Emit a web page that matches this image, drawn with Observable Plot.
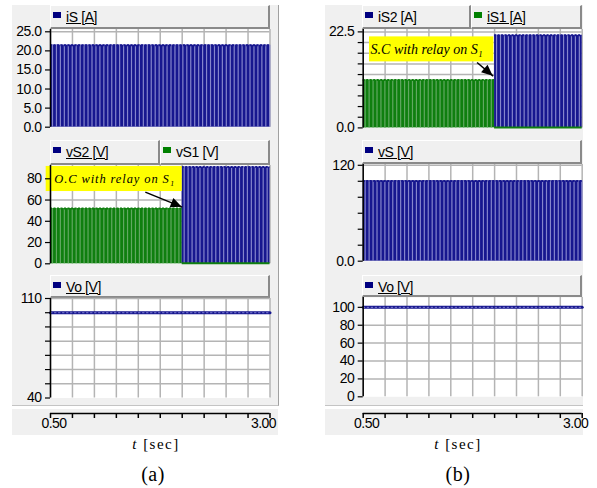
<!DOCTYPE html>
<html><head><meta charset="utf-8">
<script src="https://cdn.jsdelivr.net/npm/d3@7"></script>
<script src="https://cdn.jsdelivr.net/npm/@observablehq/plot@0.6"></script>
<style>
body{margin:0;background:#fff;}
#fig{position:relative;width:597px;height:488px;overflow:hidden;font-family:Arial,"Liberation Sans",sans-serif;}
.abs{position:absolute;}
.bg{position:absolute;background:#f0f0f0;}
.hdr{position:absolute;box-sizing:border-box;border-bottom:2px solid #8a8a8a;border-right:2px solid #8a8a8a;border-top:1px solid #fff;border-left:1px solid #fff;background:#f0f0f0;font-size:14px;letter-spacing:-0.4px;color:#000;white-space:nowrap;}
.hdr .sw{position:absolute;top:6px;width:8px;height:6px;}
.hdr .lb{position:absolute;top:2px;line-height:18px;}
.serif{font-family:"Liberation Serif","Times New Roman",serif;text-align:center;white-space:nowrap;}
</style></head>
<body>
<div id="fig"></div>
<script>
// ---------- data ----------
const tDomain = [0.5, 3.0];
const tGrid = [0.5, 0.75, 1.0, 1.25, 1.5, 1.75, 2.0, 2.25, 2.5, 2.75, 3.0];
const xTickLabels = [{t: 0.5, label: "0.50"}, {t: 3.0, label: "3.00"}];
const switchPeriod = 0.045; // apparent switching period of the pulse trains (s)

// (a) top: iS [A]
const a_iS_on = [{t0: 0.5, t1: 3.0, level: 21.5}];
// (a) middle: vS2, vS1 [V]
const a_vS1_on = [{t0: 0.5, t1: 2.0, level: 52}];
const a_vS1_off = [{t0: 2.0, t1: 3.0, level: 0.6}];
const a_vS2_on = [{t0: 2.0, t1: 3.0, level: 91}];
// (a) bottom: Vo [V]
const a_Vo = [{t: 0.5, v: 100}, {t: 3.0, v: 100}];
// (b) top: iS2, iS1 [A]
const b_iS1_on = [{t0: 0.5, t1: 2.0, level: 11.2}];
const b_iS1_off = [{t0: 2.0, t1: 3.0, level: 0.12}];
const b_iS2_on = [{t0: 2.0, t1: 3.0, level: 21.7}];
// (b) middle: vS [V]
const b_vS_on = [{t0: 0.5, t1: 3.0, level: 100.5}];
// (b) bottom: Vo [V]
const b_Vo = [{t: 0.5, v: 100}, {t: 3.0, v: 100}];

// y ticks
const a1Ticks = [0, 5, 10, 15, 20, 25];
const a2Ticks = [0, 20, 40, 60, 80];
const a3Ticks = [40, 50, 60, 70, 80, 90, 100, 110];
const a3Labels = {40: "40", 110: "110"};
const b1Ticks = [0, 2.5, 5, 7.5, 10, 12.5, 15, 17.5, 20, 22.5];
const b1Labels = {0: "0.0", 22.5: "22.5"};
const b2Ticks = [0, 20, 40, 60, 80, 100, 120];
const b2Labels = {0: "0.0", 120: "120"};
const b3Ticks = [0, 20, 40, 60, 80, 100];

// annotations
const a_note = [{t0: 0.451, t1: 2.0, v0: 68.0, v1: 91.6, tx: 1.23, vy: 79.6, text: "O.C with relay on S\u2081"}];
const a_arrow = [{t0: 1.58, v0: 67.4, t1: 2.0, v1: 53.3}];
const b_note = [{t0: 0.572, t1: 1.991, v0: 15.47, v1: 21.33, tx: 1.223, vy: 18.3, text: "S.C with relay on S\u2081"}];
const b_arrow = [{t0: 1.80, v0: 15.33, t1: 1.984, v1: 12.12}];

// ---------- style ----------
const NAVY = "#17178f", NAVY_L = "#8585cc", GREEN = "#0f7f0f", GREEN_L = "#62a862";
const GRID = "#b4b4b4";
const FONT = "Arial, 'Liberation Sans', sans-serif";
const SERIF = "'Liberation Serif','Times New Roman',serif";

const fig = document.getElementById("fig");
function add(html) { fig.insertAdjacentHTML("beforeend", html); }

// grey backgrounds
add(`<div class="bg" style="left:12px;top:5px;width:266px;height:400px;border-bottom:1px solid #c4c4c4;border-right:1px solid #a0a0a0"></div>`);
add(`<div class="bg" style="left:325px;top:5px;width:258px;height:400px;border-bottom:1px solid #c4c4c4"></div>`);
add(`<div class="bg" style="left:12px;top:409px;width:266px;height:26px"></div>`);
add(`<div class="bg" style="left:325px;top:409px;width:258px;height:26px"></div>`);

function header(x0, x1, top, bottom, name, color, underline) {
  add(`<div class="hdr" style="left:${x0}px;top:${top}px;width:${x1 - x0}px;height:${bottom - top}px">
    <div class="sw" style="left:2px;background:${color}"></div>
    <div class="lb" style="left:15px;${underline ? "text-decoration:underline;" : ""}">${name}</div></div>`);
}
header(50, 270, 5, 29, "iS [A]", "#000080", true);
header(50, 160, 140, 165, "vS2 [V]", "#000080", true);
header(160, 270, 140, 165, "vS1 [V]", "#008000", false);
header(50, 270, 275, 298, "Vo [V]", "#000080", true);
header(362, 471, 5, 29, "iS2 [A]", "#000080", false);
header(471, 582, 5, 29, "iS1 [A]", "#008000", true);
header(362, 582, 140, 164, "vS [V]", "#000080", true);
header(362, 582, 275, 297, "Vo [V]", "#000080", true);

// ---------- helpers ----------
function pulses(segs) {
  const out = [];
  for (const s of segs) for (let t = s.t0 + switchPeriod / 2; t < s.t1; t += switchPeriod) out.push({t, level: s.level});
  return out;
}
function pulseMarks(on, base, light) {
  return [
    Plot.rect(on, {x1: "t0", x2: "t1", y1: 0, y2: "level", fill: base}),
    Plot.ruleX(pulses(on), {x: "t", y1: 0, y2: "level", stroke: light, strokeWidth: 1.2}),
    Plot.ruleY(on, {x1: "t0", x2: "t1", y: "level", stroke: base, strokeWidth: 2, strokeDasharray: "2,1.5"})
  ];
}
function offMarks(off, color) {
  return [Plot.ruleY(off, {x1: "t0", x2: "t1", y: "level", stroke: color, strokeWidth: 2})];
}
function voMarks(data) {
  return [
    Plot.line(data, {x: "t", y: "v", stroke: NAVY, strokeWidth: 3}),
    Plot.line(data, {x: "t", y: "v", stroke: "#7c7cd0", strokeWidth: 1, strokeDasharray: "1.5,2.5"})
  ];
}
function noteMarks(note, arrow, size) {
  return [
    Plot.rect(note, {x1: "t0", x2: "t1", y1: "v0", y2: "v1", fill: "#ffff00"}),
    Plot.text(note, {x: "tx", y: "vy", text: "text", fontFamily: SERIF, fontStyle: "italic", fontSize: size, fill: "#000"}),
    Plot.link(arrow, {x1: "t0", y1: "v0", x2: "t1", y2: "v1", stroke: "#000", strokeWidth: 1.5})
  ];
}
function addHeads(svg, arr) {
  const sx = svg.scale("x"), sy = svg.scale("y");
  for (const a of arr) {
    const x1 = sx.apply(a.t0), y1 = sy.apply(a.v0), x2 = sx.apply(a.t1), y2 = sy.apply(a.v1);
    const ang = Math.atan2(y2 - y1, x2 - x1), L = 11, W = 5;
    const bx = x2 - L * Math.cos(ang), by = y2 - L * Math.sin(ang);
    const pts = [[x2, y2], [bx - W * Math.sin(ang), by + W * Math.cos(ang)], [bx + W * Math.sin(ang), by - W * Math.cos(ang)]];
    d3.select(svg).append("polygon").attr("points", pts.map(p => p.join(",")).join(" ")).attr("fill", "#000");
  }
}

function panel(c) {
  const mt = 10, mb = 10;
  const svg = Plot.plot({
    width: c.greyRight - c.greyLeft,
    height: c.plotBottom - c.plotTop + mt + mb,
    marginLeft: c.plotLeft - c.greyLeft,
    marginRight: c.greyRight - c.plotRight,
    marginTop: mt, marginBottom: mb,
    x: {domain: tDomain, axis: null},
    y: {domain: c.domain},
    style: {background: "transparent", overflow: "visible", fontFamily: FONT, fontSize: "14px", letterSpacing: "-0.5px", color: "#000"},
    marks: [
      Plot.frame({fill: "#fff", stroke: "none"}),
      Plot.ruleX(tGrid, {stroke: GRID, strokeWidth: 1.5}),
      Plot.ruleY(c.gridY, {stroke: GRID, strokeWidth: 1.5}),
      ...c.marks,
      Plot.axisY({ticks: c.ticks, tickSize: 5, tickPadding: 4, label: null, fontSize: 14,
        tickFormat: c.fmt, stroke: "#000", strokeWidth: 1.2}),
      Plot.ruleX([tDomain[0]], {stroke: "#000", strokeWidth: 1.5})
    ]
  });
  if (c.arrows) addHeads(svg, c.arrows);
  if (c.ls) d3.select(svg).selectAll('g[aria-label="text"] text').style("letter-spacing", c.ls);
  const div = document.createElement("div");
  div.className = "abs";
  div.style.left = c.greyLeft + "px";
  div.style.top = (c.plotTop - mt) + "px";
  div.appendChild(svg);
  fig.appendChild(div);
}

function xAxis(greyLeft, greyRight, plotLeft, plotRight, top) {
  const svg = Plot.plot({
    width: greyRight - greyLeft, height: 34,
    marginLeft: plotLeft - greyLeft, marginRight: greyRight - plotRight,
    marginTop: 2, marginBottom: 26,
    x: {domain: tDomain},
    y: {domain: [0, 1], axis: null},
    style: {background: "transparent", overflow: "visible", fontFamily: FONT, fontSize: "14px", letterSpacing: "-0.5px", color: "#000"},
    marks: [
      Plot.ruleY([0], {stroke: "#000", strokeWidth: 1.5}),
      Plot.axisX({ticks: tGrid, tickSize: 5, tickFormat: () => "", label: null, stroke: "#000", strokeWidth: 1.5}),
      Plot.text([xTickLabels[0]], {x: "t", text: "label", frameAnchor: "bottom", dy: 14, dx: 3.5, fontSize: 14}),
      Plot.text([xTickLabels[1]], {x: "t", text: "label", frameAnchor: "bottom", dy: 14, dx: -6.5, fontSize: 14})
    ]
  });
  const div = document.createElement("div");
  div.className = "abs";
  div.style.left = greyLeft + "px";
  div.style.top = top + "px";
  div.appendChild(svg);
  fig.appendChild(div);
}

// ---------- column (a) ----------
const A = {greyLeft: 12, greyRight: 278, plotLeft: 50, plotRight: 269.5};
panel({...A, plotTop: 29.3, plotBottom: 127, domain: [0, 25.6], ticks: a1Ticks, gridY: a1Ticks.slice(1),
  fmt: d => d.toFixed(1), marks: [...pulseMarks(a_iS_on, NAVY, NAVY_L)]});
panel({...A, plotTop: 165, plotBottom: 263.3, domain: [0, 92.5], ticks: a2Ticks, gridY: a2Ticks.slice(1),
  fmt: d => String(d),
  marks: [...pulseMarks(a_vS1_on, GREEN, GREEN_L), ...pulseMarks(a_vS2_on, NAVY, NAVY_L), ...offMarks(a_vS1_off, GREEN),
    ...noteMarks(a_note, a_arrow, 12.5)],
  arrows: a_arrow, ls: "0.9px"});
panel({...A, plotTop: 298, plotBottom: 397.5, domain: [40, 110], ticks: a3Ticks, gridY: a3Ticks.slice(1),
  fmt: d => a3Labels[d] ?? "", marks: [...voMarks(a_Vo)]});
xAxis(12, 278, 50, 269.5, 405);

// ---------- column (b) ----------
const B = {greyLeft: 325, greyRight: 583, plotLeft: 362.7, plotRight: 581.7};
panel({...B, plotTop: 29.3, plotBottom: 127.7, domain: [0, 23.06], ticks: b1Ticks, gridY: b1Ticks.slice(1),
  fmt: d => b1Labels[d] ?? "",
  marks: [...pulseMarks(b_iS1_on, GREEN, GREEN_L), ...pulseMarks(b_iS2_on, NAVY, NAVY_L), ...offMarks(b_iS1_off, GREEN),
    ...noteMarks(b_note, b_arrow, 14)],
  arrows: b_arrow, ls: "0px"});
panel({...B, plotTop: 164, plotBottom: 260.7, domain: [0, 121], ticks: b2Ticks, gridY: b2Ticks.slice(1),
  fmt: d => b2Labels[d] ?? "", marks: [...pulseMarks(b_vS_on, NAVY, NAVY_L)]});
panel({...B, plotTop: 296.7, plotBottom: 396, domain: [0, 111], ticks: b3Ticks, gridY: b3Ticks.slice(1),
  fmt: d => String(d), marks: [...voMarks(b_Vo)]});
xAxis(325, 583, 362.7, 581.7, 405);

// ---------- captions ----------
add(`<div class="abs serif" style="left:56px;top:435px;width:200px;font-size:15px;line-height:18px;letter-spacing:1.5px"><i>t</i> [sec]</div>`);
add(`<div class="abs serif" style="left:358px;top:435px;width:200px;font-size:15px;line-height:18px;letter-spacing:1.5px"><i>t</i> [sec]</div>`);
add(`<div class="abs serif" style="left:103px;top:463px;width:100px;font-size:20px;line-height:22px;letter-spacing:0.5px">(a)</div>`);
add(`<div class="abs serif" style="left:408px;top:463px;width:100px;font-size:20px;line-height:22px;letter-spacing:0.5px">(b)</div>`);
</script>
</body></html>
